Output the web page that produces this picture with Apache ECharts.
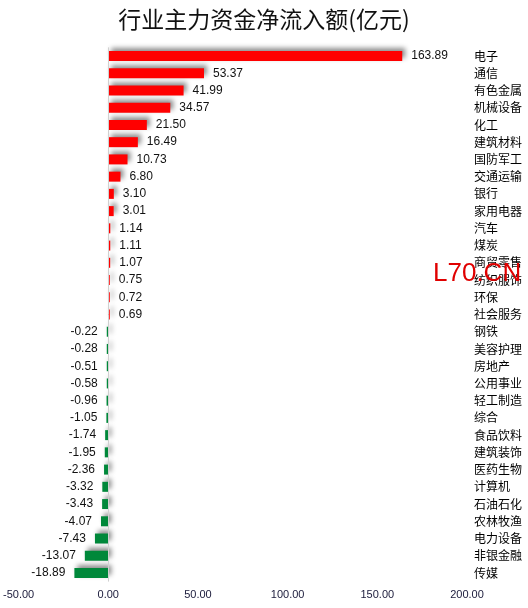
<!DOCTYPE html>
<html><head><meta charset="utf-8">
<script src="https://cdn.jsdelivr.net/npm/echarts@6/dist/echarts.min.js"></script>
<style>html,body{margin:0;padding:0;background:#fff}#c{width:528px;height:608px}</style>
</head><body><div id="c"></div>
<script>
var titleText = '行业主力资金净流入额(亿元)';
var categories = ['电子','通信','有色金属','机械设备','化工','建筑材料','国防军工','交通运输','银行','家用电器','汽车','煤炭','商贸零售','纺织服饰','环保','社会服务','钢铁','美容护理','房地产','公用事业','轻工制造','综合','食品饮料','建筑装饰','医药生物','计算机','石油石化','农林牧渔','电力设备','非银金融','传媒'];
var values = [163.89,53.37,41.99,34.57,21.50,16.49,10.73,6.80,3.10,3.01,1.14,1.11,1.07,0.75,0.72,0.69,-0.22,-0.28,-0.51,-0.58,-0.96,-1.05,-1.74,-1.95,-2.36,-3.32,-3.43,-4.07,-7.43,-13.07,-18.89];
var xTicks = [-50, 0, 50, 100, 150, 200];
var watermark = 'L70.CN';

var chart = echarts.init(document.getElementById('c'));
var data = values.map(function(v){
  return {
    value: v,
    itemStyle: {color: v >= 0 ? '#ff0000' : '#00883a'},
    label: {position: v >= 0 ? 'right' : 'left'}
  };
});
chart.setOption({
  animation: false,
  backgroundColor: '#ffffff',
  title: {
    text: titleText, left: 'center', top: 3,
    textStyle: {fontFamily: 'Noto Sans CJK SC', fontSize: 23, fontWeight: 'normal', color: '#111'}
  },
  grid: {left: 18, right: 61, top: 47.4, bottom: 26.4, containLabel: false},
  xAxis: {
    type: 'value', min: xTicks[0], max: xTicks[xTicks.length-1], interval: 50,
    axisLine: {show: false}, axisTick: {show: false}, splitLine: {show: false},
    axisLabel: {formatter: function(v){return v.toFixed(2);}, color: '#1a1a3a', fontSize: 11, fontFamily: 'Liberation Sans', margin: 8}
  },
  yAxis: {
    type: 'category', data: categories, inverse: true, position: 'right',
    axisLine: {show: false}, axisTick: {show: false},
    axisLabel: {color: '#000', fontSize: 12, fontFamily: 'Noto Sans CJK SC', margin: 7, align: 'left'}
  },
  series: [{
    type: 'bar', data: data, barWidth: 10, barMinHeight: 1.5,
    itemStyle: {shadowColor: 'rgba(0,0,0,0.45)', shadowBlur: 5, shadowOffsetX: 3, shadowOffsetY: -3},
    label: {show: true, formatter: function(p){return p.value.toFixed(2);}, color: '#111', fontSize: 12, fontFamily: 'Liberation Sans', distance: 9},
    markLine: {
      silent: true, symbol: 'none', label: {show: false},
      lineStyle: {color: '#d0d0d0', width: 1, type: 'solid'},
      data: [{xAxis: 0}]
    }
  }],
  graphic: [{
    type: 'text', left: 433, top: 261, z: 100,
    style: {text: watermark, fill: '#e00000', fontSize: 26, fontFamily: 'Liberation Sans'}
  }]
});
</script></body></html>
